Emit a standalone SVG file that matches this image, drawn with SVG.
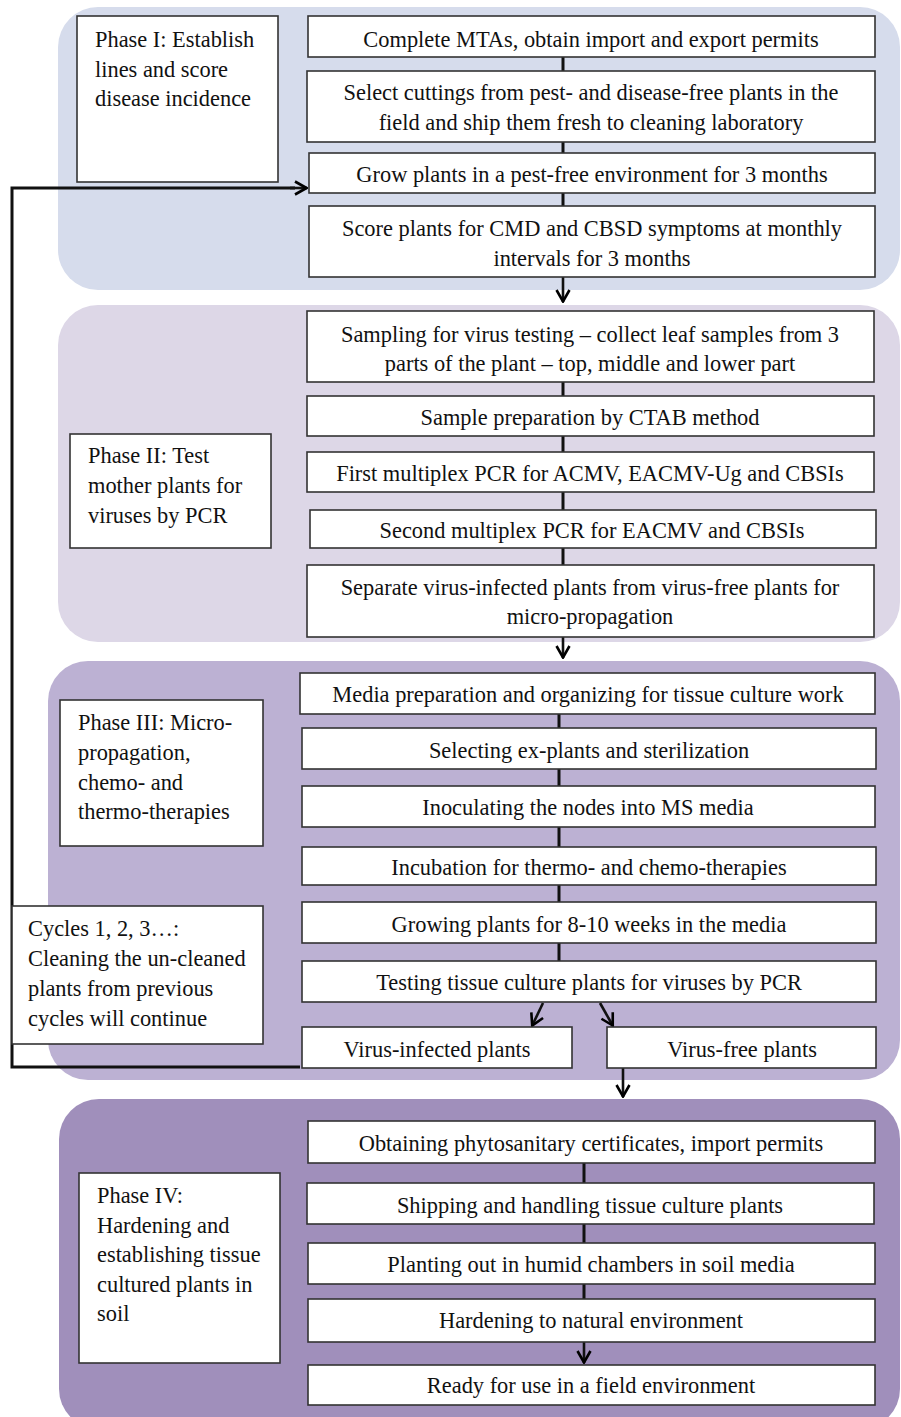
<svg xmlns="http://www.w3.org/2000/svg" width="901" height="1417" viewBox="0 0 901 1417">
<defs>
<marker id="arr" viewBox="0 0 14 16" refX="13" refY="8" markerWidth="14" markerHeight="16" markerUnits="userSpaceOnUse" orient="auto">
<polyline points="1,1.5 12.5,8 1,14.5" fill="none" stroke="#000" stroke-width="2.6"/>
</marker>
</defs>
<style>
.bg1{fill:#d6dcec}
.bg2{fill:#ddd7e7}
.bg3{fill:#bcb1d3}
.bg4{fill:#a08fbb}
.box{fill:#fff;stroke:#333;stroke-width:1.6}
.t{font-family:"Liberation Serif","Times New Roman",serif;font-size:22.4px;fill:#111}
.c{text-anchor:middle}
.ln{stroke:#111;stroke-width:3;fill:none}
.la{stroke:#111;stroke-width:2.6;fill:none;marker-end:url(#arr)}
</style>
<g id="phase-backgrounds">
<rect class="bg1" x="58" y="7" width="842" height="283" rx="40"/>
<rect class="bg2" x="58" y="305" width="842" height="337" rx="40"/>
<rect class="bg3" x="48" y="661" width="852" height="419" rx="40"/>
<rect class="bg4" x="59" y="1099" width="841" height="330" rx="40"/>
</g>
<g id="connectors">
<line class="ln" x1="563" y1="57" x2="563" y2="71"/>
<line class="ln" x1="563" y1="142" x2="563" y2="153"/>
<line class="ln" x1="563" y1="193" x2="563" y2="206"/>
<line class="la" x1="563" y1="277" x2="563" y2="302"/>
<line class="ln" x1="563" y1="382" x2="563" y2="396"/>
<line class="ln" x1="563" y1="436" x2="563" y2="452"/>
<line class="ln" x1="563" y1="492" x2="563" y2="510"/>
<line class="ln" x1="563" y1="548" x2="563" y2="565"/>
<line class="la" x1="563" y1="637" x2="563" y2="658"/>
<line class="ln" x1="559" y1="714" x2="559" y2="728"/>
<line class="ln" x1="559" y1="769" x2="559" y2="786"/>
<line class="ln" x1="559" y1="827" x2="559" y2="847"/>
<line class="ln" x1="559" y1="885" x2="559" y2="902"/>
<line class="ln" x1="559" y1="943" x2="559" y2="961"/>
<line class="la" x1="543" y1="1003" x2="532" y2="1026"/>
<line class="la" x1="600" y1="1003" x2="613" y2="1026"/>
<line class="la" x1="623" y1="1068" x2="623" y2="1097"/>
<line class="ln" x1="584" y1="1163" x2="584" y2="1183"/>
<line class="ln" x1="584" y1="1224" x2="584" y2="1243"/>
<line class="ln" x1="584" y1="1284" x2="584" y2="1299"/>
<line class="la" x1="584" y1="1342" x2="584" y2="1363"/>
<polyline class="ln" points="300,1067 12,1067 12,188 295,188"/>
<line class="la" x1="290" y1="188" x2="307" y2="188"/>
</g>
<g id="phase1-label"><rect class="box" x="77" y="16" width="201" height="166"/>
<text class="t" x="95" y="47">Phase I: Establish</text><text class="t" x="95" y="77">lines and score</text><text class="t" x="95" y="106">disease incidence</text></g>
<g id="p1-b1"><rect class="box" x="308" y="16" width="567" height="41"/><text class="t c" x="591" y="47">Complete MTAs, obtain import and export permits</text></g>
<g id="p1-b2"><rect class="box" x="307" y="71" width="568" height="71"/><text class="t c" x="591" y="100">Select cuttings from pest- and disease-free plants in the</text><text class="t c" x="591" y="130">field and ship them fresh to cleaning laboratory</text></g>
<g id="p1-b3"><rect class="box" x="309" y="153" width="566" height="40"/><text class="t c" x="592" y="182">Grow plants in a pest-free environment for 3 months</text></g>
<g id="p1-b4"><rect class="box" x="309" y="206" width="566" height="71"/><text class="t c" x="592" y="236">Score plants for CMD and CBSD symptoms at monthly</text><text class="t c" x="592" y="266">intervals for 3 months</text></g>

<g id="phase2-label"><rect class="box" x="70" y="434" width="201" height="114"/>
<text class="t" x="88" y="463">Phase II: Test</text><text class="t" x="88" y="493">mother plants for</text><text class="t" x="88" y="523">viruses by PCR</text></g>
<g id="p2-b1"><rect class="box" x="307" y="311" width="567" height="71"/><text class="t c" x="590" y="342">Sampling for virus testing – collect leaf samples from 3</text><text class="t c" x="590" y="371">parts of the plant – top, middle and lower part</text></g>
<g id="p2-b2"><rect class="box" x="307" y="396" width="567" height="40"/><text class="t c" x="590" y="425">Sample preparation by CTAB method</text></g>
<g id="p2-b3"><rect class="box" x="307" y="452" width="567" height="40"/><text class="t c" x="590" y="481">First multiplex PCR for ACMV, EACMV-Ug and CBSIs</text></g>
<g id="p2-b4"><rect class="box" x="310" y="510" width="566" height="38"/><text class="t c" x="592" y="538">Second multiplex PCR for EACMV and CBSIs</text></g>
<g id="p2-b5"><rect class="box" x="307" y="565" width="567" height="72"/><text class="t c" x="590" y="595">Separate virus-infected plants from virus-free plants for</text><text class="t c" x="590" y="624">micro-propagation</text></g>

<g id="phase3-label"><rect class="box" x="60" y="700" width="203" height="146"/>
<text class="t" x="78" y="730">Phase III: Micro-</text><text class="t" x="78" y="760">propagation,</text><text class="t" x="78" y="790">chemo- and</text><text class="t" x="78" y="819">thermo-therapies</text></g>
<g id="cycles"><rect class="box" x="12" y="906" width="251" height="138"/>
<text class="t" x="28" y="936">Cycles 1, 2, 3…:</text><text class="t" x="28" y="966">Cleaning the un-cleaned</text><text class="t" x="28" y="996">plants from previous</text><text class="t" x="28" y="1026">cycles will continue</text></g>
<g id="p3-b1"><rect class="box" x="300" y="673" width="575" height="41"/><text class="t c" x="588" y="702">Media preparation and organizing for tissue culture work</text></g>
<g id="p3-b2"><rect class="box" x="302" y="728" width="574" height="41"/><text class="t c" x="589" y="758">Selecting ex-plants and sterilization</text></g>
<g id="p3-b3"><rect class="box" x="302" y="786" width="573" height="41"/><text class="t c" x="588" y="815">Inoculating the nodes into MS media</text></g>
<g id="p3-b4"><rect class="box" x="302" y="847" width="574" height="38"/><text class="t c" x="589" y="875">Incubation for thermo- and chemo-therapies</text></g>
<g id="p3-b5"><rect class="box" x="302" y="902" width="574" height="41"/><text class="t c" x="589" y="932">Growing plants for 8-10 weeks in the media</text></g>
<g id="p3-b6"><rect class="box" x="302" y="961" width="574" height="41"/><text class="t c" x="589" y="990">Testing tissue culture plants for viruses by PCR</text></g>
<g id="infected"><rect class="box" x="302" y="1027" width="270" height="41"/><text class="t c" x="437" y="1057">Virus-infected plants</text></g>
<g id="free"><rect class="box" x="607" y="1027" width="269" height="41"/><text class="t c" x="742" y="1057">Virus-free plants</text></g>

<g id="phase4-label"><rect class="box" x="79" y="1173" width="201" height="190"/>
<text class="t" x="97" y="1203">Phase IV:</text><text class="t" x="97" y="1233">Hardening and</text><text class="t" x="97" y="1262">establishing tissue</text><text class="t" x="97" y="1292">cultured plants in</text><text class="t" x="97" y="1321">soil</text></g>
<g id="p4-b1"><rect class="box" x="308" y="1121" width="567" height="42"/><text class="t c" x="591" y="1151">Obtaining phytosanitary certificates, import permits</text></g>
<g id="p4-b2"><rect class="box" x="307" y="1183" width="567" height="41"/><text class="t c" x="590" y="1213">Shipping and handling tissue culture plants</text></g>
<g id="p4-b3"><rect class="box" x="308" y="1243" width="567" height="41"/><text class="t c" x="591" y="1272">Planting out in humid chambers in soil media</text></g>
<g id="p4-b4"><rect class="box" x="308" y="1299" width="567" height="43"/><text class="t c" x="591" y="1328">Hardening to natural environment</text></g>
<g id="p4-b5"><rect class="box" x="308" y="1365" width="567" height="40"/><text class="t c" x="591" y="1393">Ready for use in a field environment</text></g>
</svg>
